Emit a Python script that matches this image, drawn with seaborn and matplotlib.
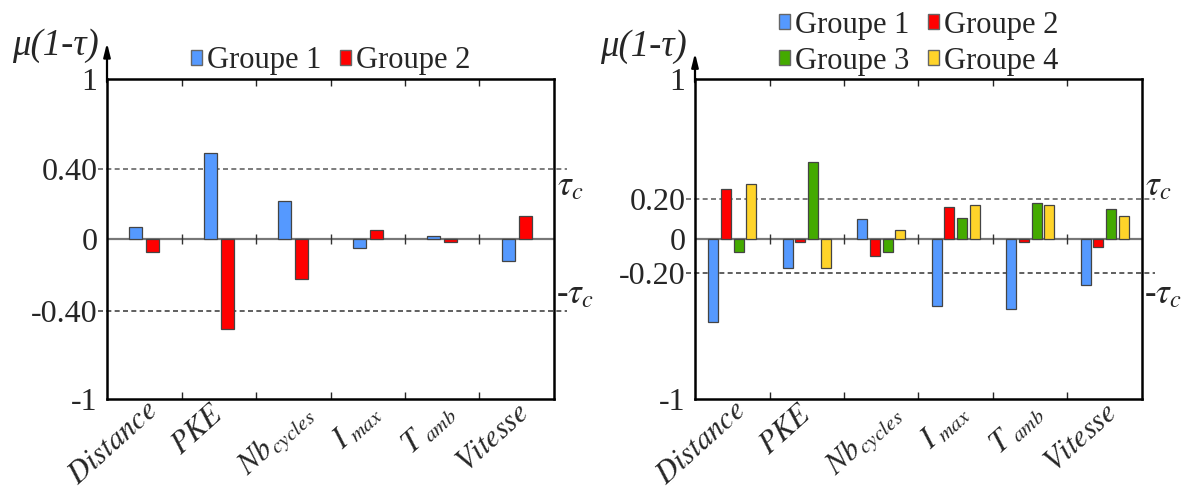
import numpy as np
import pandas as pd
import seaborn as sns
import matplotlib.pyplot as plt
from matplotlib.transforms import ScaledTranslation

# parameters on the x axis
params = ['Distance', 'PKE', 'Nb_cycles', 'I_max', 'T_amb', 'Vitesse']
tick_labels = [r'$Distance$', r'$PKE$', r'$Nb_{cycles}$', r'$I_{\ max}$',
               r'$T_{\ amb}$', r'$Vitesse$']

# left chart: 2 groups
left_g1 = [0.07, 0.51, 0.22, -0.05, 0.015, -0.12]
left_g2 = [-0.07, -0.52, -0.22, 0.05, -0.015, 0.13]

# right chart: 4 groups
right_g1 = [-0.51, -0.17, 0.10, -0.41, -0.43, -0.28]
right_g2 = [0.27, -0.02, -0.10, 0.16, -0.02, -0.05]
right_g3 = [-0.08, 0.45, -0.075, 0.105, 0.18, 0.15]
right_g4 = [0.30, -0.17, 0.045, 0.17, 0.17, 0.115]

group_names = ['Groupe 1', 'Groupe 2', 'Groupe 3', 'Groupe 4']
colors = ['#5599ff', '#ff0000', '#44aa00', '#ffd42a']

# y tick values per chart (axis is stretched piecewise)
left_yticks = [-1, -0.4, 0, 0.4, 1]
left_ylabels = ['-1', '-0.40', '0', '0.40', '1']
left_ypos = [-1, -0.45, 0, 0.4375, 1]
right_yticks = [-1, -0.2, 0, 0.2, 1]
right_ylabels = ['-1', '-0.20', '0', '0.20', '1']
right_ypos = [-1, -0.21, 0, 0.25, 1]

# small nudges of the rotated tick labels (pixels)
label_dx = [0, -8, 6, 0, 0, 0]
label_dy = [5, 2, 2, 2, 2, 2]


def make_df(series):
    rows = []
    for name, vals in series:
        for p, v in zip(params, vals):
            rows.append({'param': p, 'value': v, 'groupe': name})
    return pd.DataFrame(rows)


def draw_panel(ax, df, n, width, gap, yticks, ylabels, ypos, thr,
               leg_y, leg_order, arrow_top, lab_y):
    fwd = lambda y: np.interp(y, yticks, ypos)
    inv = lambda y: np.interp(y, ypos, yticks)
    ax.set_yscale('function', functions=(fwd, inv))

    sns.barplot(data=df, x='param', y='value', hue='groupe', order=params,
                palette=colors[:n], width=width, gap=gap, edgecolor='#444444',
                linewidth=0.9, saturation=1, ax=ax, zorder=3)
    ax.set_ylim(-1, 1)
    ax.set_xlim(-0.5, 5.5)

    ax.axhline(0, color='#777777', lw=1.6, zorder=2)
    ax.scatter(np.arange(0.5, 5.5), np.zeros(5), marker='|', s=45,
               color='#333333', linewidths=1, zorder=4)
    ax.axhline(thr, xmin=-0.02, xmax=1.03, ls=(0, (3, 2)), color='#666666',
               lw=1.2, clip_on=False, zorder=1)
    ax.axhline(-thr, xmin=-0.02, xmax=1.03, ls=(0, (3, 2)), color='#444444',
               lw=1.2, clip_on=False, zorder=1)

    ax.set_yticks(yticks)
    ax.set_yticklabels(ylabels)
    ax.tick_params(axis='y', length=0, pad=7, labelsize=23)

    ax.set_xticks(range(6))
    ax.set_xticklabels(tick_labels, rotation=42, ha='right',
                       rotation_mode='anchor', fontsize=22)
    ax.tick_params(axis='x', which='major', length=0, pad=1)
    for lab, dx, dy in zip(ax.get_xticklabels(), label_dx, label_dy):
        off = ScaledTranslation(dx / 100, dy / 100, ax.figure.dpi_scale_trans)
        lab.set_transform(lab.get_transform() + off)
    ax.set_xticks(np.arange(0.5, 5.5), minor=True)
    ax.tick_params(axis='x', which='minor', direction='in', length=5,
                   width=1, top=True, bottom=True)

    ax.set_xlabel('')
    ax.set_ylabel('')
    for s in ax.spines.values():
        s.set_visible(True)
        s.set_color('black')
        s.set_linewidth(1.8)

    ax.annotate('', xy=(0, arrow_top), xytext=(0, 0.99),
                xycoords='axes fraction',
                arrowprops=dict(arrowstyle='-|>,head_length=0.8,head_width=0.2',
                                color='black', lw=1.6, shrinkA=0, shrinkB=0))
    ax.text(-0.018, lab_y, 'μ(1-τ)', transform=ax.transAxes, ha='right',
            va='center', style='italic', fontsize=26.5)

    ax.text(1.007, 0.6625, r'$\tau_c$', transform=ax.transAxes, ha='left',
            va='center', fontsize=25)
    ax.text(1.005, 0.325, r'-$\tau_c$', transform=ax.transAxes, ha='left',
            va='center', fontsize=25)

    old = ax.get_legend()
    handles = old.legend_handles
    labels = [t.get_text() for t in old.get_texts()]
    old.remove()
    handles = [handles[i] for i in leg_order]
    labels = [labels[i] for i in leg_order]
    leg = ax.legend(handles, labels, loc='center', bbox_to_anchor=(0.5, leg_y),
                    ncol=2, frameon=False, fontsize=22, handlelength=0.38,
                    handleheight=0.38, handletextpad=0.15, columnspacing=0.6,
                    labelspacing=0.22, borderpad=0)
    for h in leg.legend_handles:
        h.set_edgecolor('#666666')
        h.set_linewidth(1)


sns.set_style('white')
plt.rcParams['font.family'] = ['Liberation Serif', 'DejaVu Serif']
plt.rcParams['mathtext.fontset'] = 'stix'

fig = plt.figure(figsize=(11.83, 4.9), dpi=100)
ax1 = fig.add_axes([0.09045, 0.18571, 0.37785, 0.65306])
ax2 = fig.add_axes([0.58749, 0.18571, 0.37785, 0.65306])

df_left = make_df([(group_names[0], left_g1), (group_names[1], left_g2)])
df_right = make_df([(group_names[0], right_g1), (group_names[1], right_g2),
                    (group_names[2], right_g3), (group_names[3], right_g4)])

draw_panel(ax1, df_left, 2, 0.456, 0.24, left_yticks, left_ylabels,
           left_ypos, 0.4, 1.057, [0, 1], 1.113, 1.103)
draw_panel(ax2, df_right, 4, 0.688, 0.22, right_yticks, right_ylabels,
           right_ypos, 0.2, 1.112, [0, 2, 1, 3], 1.081, 1.10)

fig.savefig('out.png', dpi=100)
